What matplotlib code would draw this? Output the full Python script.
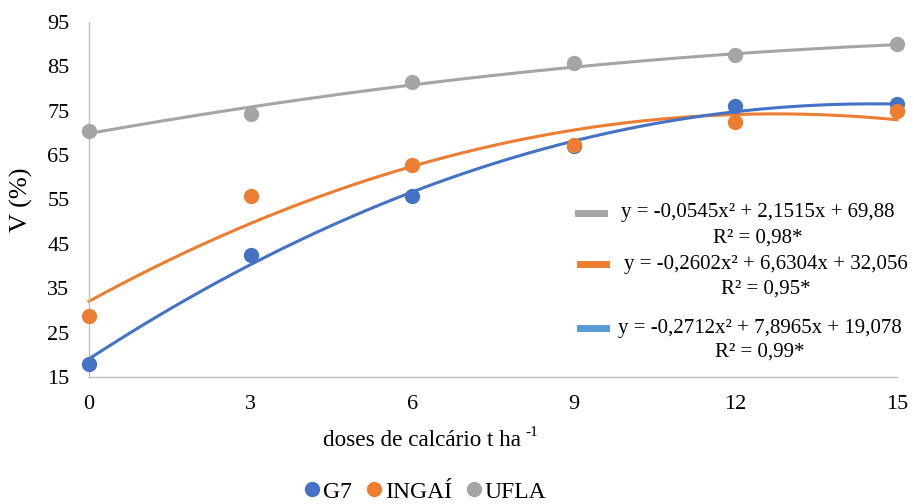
import numpy as np
import matplotlib
matplotlib.use("Agg")
import matplotlib.pyplot as plt
from matplotlib.lines import Line2D

plt.rcParams['font.family'] = ['Liberation Serif', 'DejaVu Serif']

doses = [0, 3, 6, 9, 12, 15]
g7 = [18.0, 42.5, 55.8, 67.0, 76.0, 76.5]
ingai = [28.7, 55.7, 62.8, 67.2, 72.5, 75.0]
ufla = [70.5, 74.3, 81.5, 85.7, 87.5, 90.0]

coef_ufla = (-0.0545, 2.1515, 69.88)
coef_ingai = (-0.2602, 6.6304, 32.056)
coef_g7 = (-0.2712, 7.8965, 19.078)

eq_ufla = "y = -0,0545x² + 2,1515x + 69,88"
eq_ingai = "y = -0,2602x² + 6,6304x + 32,056"
eq_g7 = "y = -0,2712x² + 7,8965x + 19,078"
r2_ufla = "R² = 0,98*"
r2_ingai = "R² = 0,95*"
r2_g7 = "R² = 0,99*"

yticks = [15, 25, 35, 45, 55, 65, 75, 85, 95]

c_blue = '#4472C4'
c_orange = '#ED7D31'
c_gray = '#A5A5A5'
c_lblue = '#5B9BD5'

W, H = 914, 504
fig = plt.figure(figsize=(W/100, H/100), dpi=100)
ax = fig.add_axes([89/W, 1-377/H, (897-89)/W, (377-22)/H])

xs = np.linspace(0, 15, 200)
for coef, col in [(coef_ufla, c_gray), (coef_ingai, c_orange), (coef_g7, c_blue)]:
    a, b, c = coef
    ax.plot(xs, a*xs**2 + b*xs + c, color=col, lw=2.2, zorder=2, clip_on=False)

for vals, col in [(g7, c_blue), (ingai, c_orange), (ufla, c_gray)]:
    ax.plot(doses, vals, 'o', color=col, ms=10, zorder=3, clip_on=False)

ax.set_xlim(0, 15)
ax.set_ylim(15, 95)
ax.set_xticks(doses)
ax.set_yticks(yticks)
ax.tick_params(length=0, labelsize=16)
ax.tick_params(axis='y', pad=14)
ax.tick_params(axis='x', pad=13)
for s in ['top', 'right']:
    ax.spines[s].set_visible(False)
for s in ['left', 'bottom']:
    ax.spines[s].set_color('#BFBFBF')
    ax.spines[s].set_linewidth(1)

fig.text(21/W, 1-200/H, 'V (%)', rotation=90, ha='center', va='center', fontsize=19)
fig.text(521/W, 1-441/H, 'doses de calcário t ha', ha='right', va='center', fontsize=16.7)
fig.text(525/W, 1-432/H, '-1', ha='left', va='center', fontsize=11)

# equation legend
def eqblock(x0, y_eq, y_r2, col, eq, r2, xc):
    fig.add_artist(Line2D([x0/W, (x0+26)/W], [1-y_eq/H]*2, color=col, lw=5))
    fig.text(xc/W, 1-y_eq/H, eq, ha='center', va='center', fontsize=15)
    fig.text(xc/W, 1-y_r2/H, r2, ha='center', va='center', fontsize=15)

eqblock(578, 213, 238, c_gray, eq_ufla, r2_ufla, 758)
eqblock(580, 264, 289, c_orange, eq_ingai, r2_ingai, 766)
eqblock(580, 328, 352, c_lblue, eq_g7, r2_g7, 760)

handles = [Line2D([], [], marker='o', ls='', color=c, ms=10) for c in [c_blue, c_orange, c_gray]]
fig.legend(handles, ['G7', 'INGAÍ', 'UFLA'], loc='center', bbox_to_anchor=(424/W, 1-492/H),
           ncol=3, frameon=False, fontsize=17, handletextpad=0.0, columnspacing=0.5, handlelength=0.9)

fig.savefig('out.png', dpi=100)
